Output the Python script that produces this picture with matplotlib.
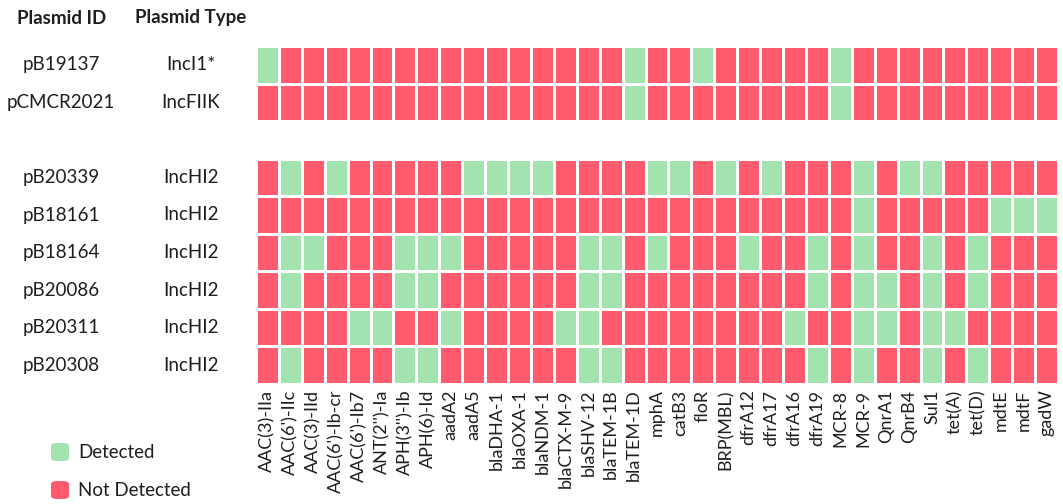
import numpy as np
import matplotlib
matplotlib.use("Agg")
import matplotlib.pyplot as plt
from matplotlib.colors import ListedColormap
from matplotlib.patches import FancyBboxPatch

plt.rcParams["font.family"] = ["Lato", "DejaVu Sans"]

genes = ["AAC(3)-IIa", "AAC(6')-IIc", "AAC(3)-IId", "AAC(6')-Ib-cr", "AAC(6')-Ib7",
         "ANT(2'')-Ia", "APH(3'')-Ib", "APH(6)-Id", "aadA2", "aadA5", "blaDHA-1",
         "blaOXA-1", "blaNDM-1", "blaCTX-M-9", "blaSHV-12", "blaTEM-1B", "blaTEM-1D",
         "mphA", "catB3", "floR", "BRP(MBL)", "dfrA12", "dfrA17", "dfrA16", "dfrA19",
         "MCR-8", "MCR-9", "QnrA1", "QnrB4", "Sul1", "tet(A)", "tet(D)", "mdtE",
         "mdtF", "gadW"]

plasmid_ids = ["pB19137", "pCMCR2021", "pB20339", "pB18161", "pB18164",
               "pB20086", "pB20311", "pB20308"]
plasmid_types = ["IncI1*", "IncFIIK", "IncHI2", "IncHI2", "IncHI2",
                 "IncHI2", "IncHI2", "IncHI2"]

# presence (1) / absence (0) per plasmid, one entry per gene
pB19137   = [1,0,0,0,0,0,0,0,0,0,0,0,0,0,0,0,1,0,0,1,0,0,0,0,0,1,0,0,0,0,0,0,0,0,0]
pCMCR2021 = [0,0,0,0,0,0,0,0,0,0,0,0,0,0,0,0,1,0,0,0,0,0,0,0,0,1,0,0,0,0,0,0,0,0,0]
pB20339   = [0,1,0,1,0,0,0,0,0,1,1,1,1,0,0,0,0,1,1,0,1,0,1,0,0,0,1,0,1,1,0,0,0,0,0]
pB18161   = [0,0,0,0,0,0,0,0,0,0,0,0,0,0,0,0,0,0,0,0,0,0,0,0,0,0,1,0,0,0,0,0,1,1,1]
pB18164   = [0,1,1,0,0,0,1,1,1,0,0,0,0,0,1,1,0,1,0,0,0,1,0,0,1,0,1,0,0,1,0,1,0,0,0]
pB20086   = [0,1,0,0,0,0,1,1,0,0,0,0,0,0,1,1,0,0,0,0,0,0,0,0,1,0,1,1,0,1,0,1,0,0,0]
pB20311   = [0,0,0,0,1,1,0,0,1,0,0,0,0,1,1,0,0,0,0,0,0,0,0,1,0,0,1,1,0,1,1,0,0,0,0]
pB20308   = [0,1,0,0,0,0,1,1,0,0,0,0,0,0,1,1,0,0,0,0,0,0,0,0,1,0,1,0,0,1,0,1,0,0,0]

top_group = [pB19137, pCMCR2021]
bottom_group = [pB20339, pB18161, pB18164, pB20086, pB20311, pB20308]

GREEN = "#A3E3B0"
RED = "#FF5A6E"
TEXT = "#1E1E1E"

# stack the two groups with one empty spacer row between them
n_cols = len(genes)
spacer = [np.nan] * n_cols
grid = np.array(top_group + [spacer] + bottom_group, dtype=float)
grid = np.ma.masked_invalid(grid)
n_rows = grid.shape[0]

W, H = 1063, 504
fig = plt.figure(figsize=(W / 100, H / 100), dpi=100)
x0, x1, y0, y1 = 256, 1058, 46, 384
ax = fig.add_axes([x0 / W, 1 - y1 / H, (x1 - x0) / W, (y1 - y0) / H])

cmap = ListedColormap([RED, GREEN])
ax.pcolormesh(np.arange(n_cols + 1), np.arange(n_rows + 1), grid, cmap=cmap,
              vmin=0, vmax=1, edgecolors="white", linewidth=0.8)
ax.set_xlim(0, n_cols)
ax.set_ylim(n_rows, 0)
for s in ax.spines.values():
    s.set_visible(False)

ax.set_xticks(np.arange(n_cols) + 0.5)
ax.set_xticklabels(genes, rotation=90, fontsize=13, color=TEXT)
ax.tick_params(axis="x", length=0, pad=4)
ax.set_yticks([])

# row labels: plasmid ID and type, skipping the spacer row
row_positions = [0, 1, 3, 4, 5, 6, 7, 8]
for pid, ptype, r in zip(plasmid_ids, plasmid_types, row_positions):
    yc = 1 - (y0 + (r + 0.5) * (y1 - y0) / n_rows) / H
    fig.text(61 / W, yc, pid, ha="center", va="center", fontsize=13.5, color=TEXT)
    fig.text(191 / W, yc, ptype, ha="center", va="center", fontsize=13.5, color=TEXT)

fig.text(62 / W, 1 - 18 / H, "Plasmid ID", ha="center", va="center",
         fontsize=13.5, fontweight="bold", color=TEXT)
fig.text(191 / W, 1 - 18 / H, "Plasmid Type", ha="center", va="center",
         fontsize=13.5, fontweight="bold", color=TEXT)

# legend swatches
for label, color, yc in [("Detected", GREEN, 452), ("Not Detected", RED, 490)]:
    box = FancyBboxPatch((51 / W, 1 - (yc + 9) / H), 18 / W, 18 / H,
                         boxstyle="round,pad=0,rounding_size=0.006",
                         transform=fig.transFigure, facecolor=color, edgecolor="none")
    fig.patches.append(box)
    fig.text(78 / W, 1 - yc / H, label, ha="left", va="center",
             fontsize=13.5, color=TEXT)

fig.savefig("out.png", dpi=100)
